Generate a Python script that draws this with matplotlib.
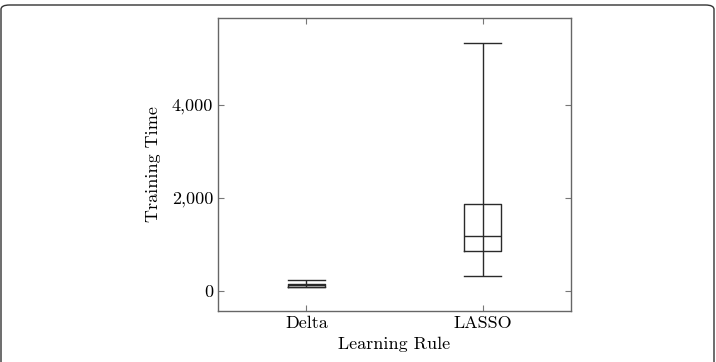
import matplotlib
matplotlib.use("Agg")
import matplotlib.pyplot as plt
from matplotlib.patches import FancyBboxPatch
from matplotlib.ticker import FuncFormatter

categories = ["Delta", "LASSO"]
whislo = [80, 316]
q1 = [95, 860]
med = [120, 1176]
q3 = [150, 1864]
whishi = [230, 5333]
yticks = [0, 2000, 4000]

plt.rcParams['font.family'] = ['cmr10', 'DejaVu Serif']
plt.rcParams['axes.formatter.use_mathtext'] = True

fig = plt.figure(figsize=(7.16, 3.62), dpi=100)
ax = fig.add_axes([218/716, 1-311/362, (571-218)/716, (311-18)/362])

stats = [dict(label=c, whislo=a, q1=b, med=m, q3=d, whishi=e, fliers=[])
         for c, a, b, m, d, e in zip(categories, whislo, q1, med, q3, whishi)]
lc = '#2a2a2a'
ax.bxp(stats, positions=[0, 1], widths=0.21, showfliers=False,
       boxprops=dict(color=lc, linewidth=1.0),
       whiskerprops=dict(color=lc, linewidth=0),
       capprops=dict(color=lc, linewidth=1.0),
       medianprops=dict(color=lc, linewidth=1.0),
       capwidths=0.21)
# whisker line runs through the box
ax.vlines([0, 1], whislo, whishi, color=lc, linewidth=1.0)

ax.set_xlim(-0.5, 1.5)
ax.set_ylim(-430, 5871)
ax.set_xticks([0, 1])
ax.set_xticklabels(categories)
ax.set_yticks(yticks)
ax.yaxis.set_major_formatter(FuncFormatter(lambda v, p: f"{int(v):,}"))
ax.tick_params(direction='in', length=4, top=True, right=True, labelsize=13,
               color='#777777', width=0.8)
for s in ax.spines.values():
    s.set_color('#666666')
    s.set_linewidth(1.0)
ax.set_xlabel("Learning Rule", fontsize=13, labelpad=4)
ax.set_ylabel("Training Time", fontsize=13, labelpad=8)

border = FancyBboxPatch((1/716, -20/362), 713/716, (357+20)/362,
                        boxstyle="round,pad=0,rounding_size=0.012",
                        transform=fig.transFigure, fill=False,
                        edgecolor='#333333', linewidth=1.0, clip_on=False)
fig.patches.append(border)

fig.savefig("out.png", dpi=100)
